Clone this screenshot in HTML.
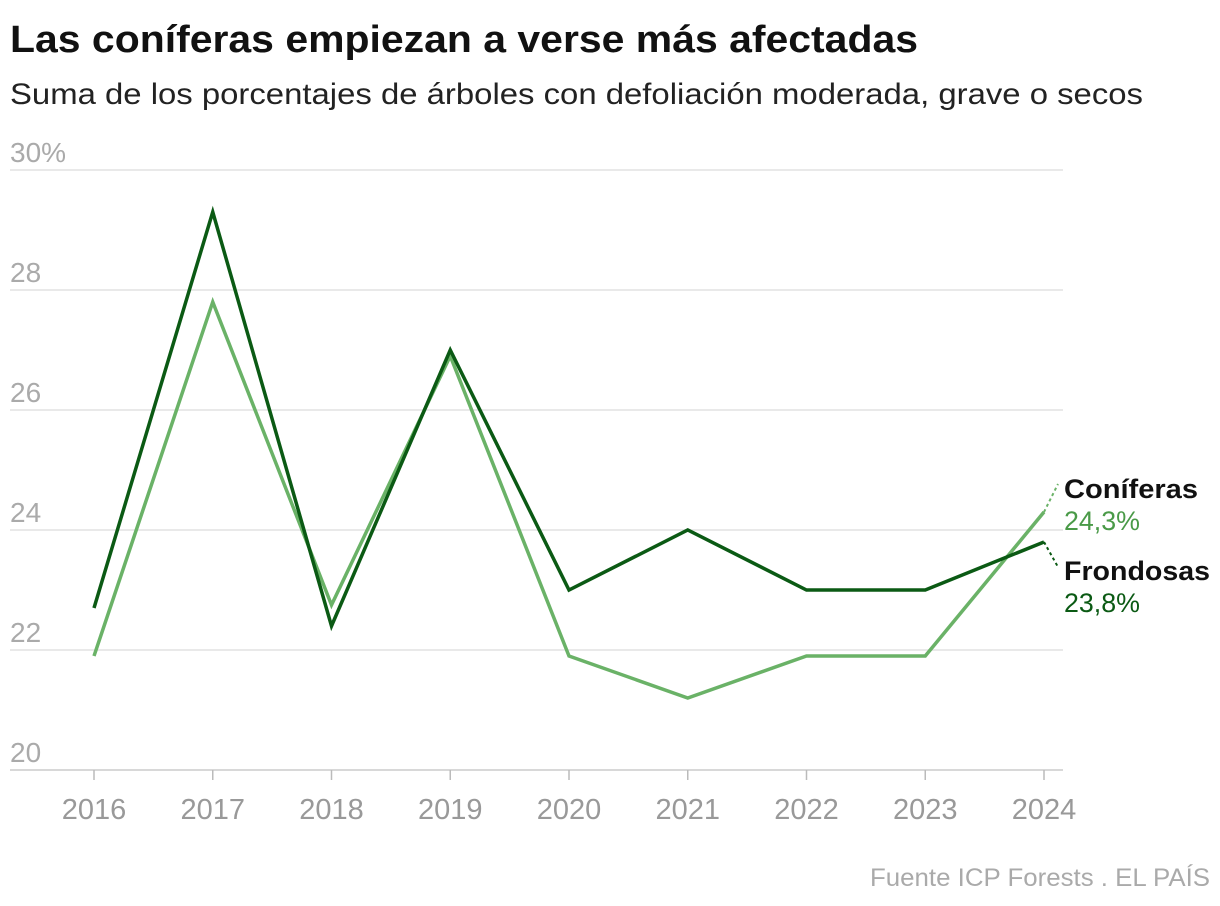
<!DOCTYPE html>
<html><head><meta charset="utf-8"><style>
body{margin:0;background:#fff;width:1220px;height:906px;overflow:hidden;font-family:"Liberation Sans",sans-serif}
</style></head><body>
<svg width="1220" height="906" style="position:absolute;left:0;top:0">
<text x="10" y="52" font-size="38" font-weight="bold" fill="#111" textLength="908" lengthAdjust="spacingAndGlyphs">Las coníferas empiezan a verse más afectadas</text>
<text x="10" y="104" font-size="30" fill="#222" textLength="1133" lengthAdjust="spacingAndGlyphs">Suma de los porcentajes de árboles con defoliación moderada, grave o secos</text>
<g id="grid"></g><g id="xaxis"></g><g id="lines"></g>
<text x="1210" y="886" font-size="25" fill="#aaa" text-anchor="end" textLength="340" lengthAdjust="spacingAndGlyphs">Fuente ICP Forests . EL PAÍS</text>
</svg>
<script>
const years=[2016,2017,2018,2019,2020,2021,2022,2023,2024];
const frondosas=[22.7,29.3,22.4,27.0,23.0,24.0,23.0,23.0,23.8];
const coniferas=[21.9,27.8,22.75,26.9,21.9,21.2,21.9,21.9,24.3];
const yTicks=[20,22,24,26,28,30];
const ns="http://www.w3.org/2000/svg";
const x=i=>94+i*118.75;
const y=v=>770-(v-20)*60;
function mk(t,a,p){const e=document.createElementNS(ns,t);for(const k in a)e.setAttribute(k,a[k]);p.appendChild(e);return e;}
const g=document.getElementById('grid');
yTicks.forEach(v=>{
 const l=mk('line',{x1:10,x2:1063,y1:y(v),y2:y(v),stroke:v==20?'#ccc':'#e2e2e2','stroke-width':1.5},g);
 
 
 const t=mk('text',{x:10,y:y(v)-8,'font-size':28,fill:'#aaa'},g);
 t.textContent=v==30?'30%':v;
 
 
});
const xa=document.getElementById('xaxis');
years.forEach((yr,i)=>{
 const l=mk('line',{x1:x(i),x2:x(i),y1:770,y2:780,stroke:'#bbb','stroke-width':1.5},xa);
 
 
 const t=mk('text',{x:x(i),y:819,'font-size':29,fill:'#999','text-anchor':'middle'},xa);
 t.textContent=yr;
 
 
});
const L=document.getElementById('lines');
function series(vals,col,name){
 const p=mk('polyline',{points:vals.map((v,i)=>x(i)+','+y(v)).join(' '),fill:'none',stroke:col,'stroke-width':3.5,'stroke-linejoin':'miter'},L);
 
 
}
series(coniferas,'#6ab267','coniferas');
series(frondosas,'#0b5a14','frondosas');
const n=years.length-1;
const c1=mk('line',{x1:x(n),y1:y(coniferas[n]),x2:1058,y2:484,stroke:'#6ab267','stroke-width':2,'stroke-dasharray':'3,3'},L);


const c2=mk('line',{x1:x(n),y1:y(frondosas[n]),x2:1058,y2:567,stroke:'#0b5a14','stroke-width':2,'stroke-dasharray':'3,3'},L);


function lab(tx,yy,txt,col,bold,name,w){const t=mk('text',{x:tx,y:yy,'font-size':27,fill:col,'font-weight':bold?'bold':'normal',textLength:w,lengthAdjust:'spacingAndGlyphs'},L);t.textContent=txt;
 
 }
lab(1064,498,'Coníferas','#111',true,'coniferas-label',134);
lab(1064,530,'24,3%','#4a9a48',false,'coniferas-value',76);
lab(1064,580,'Frondosas','#111',true,'frondosas-label',146);
lab(1064,612,'23,8%','#0b5a14',false,'frondosas-value',76);
</script>
</body></html>
